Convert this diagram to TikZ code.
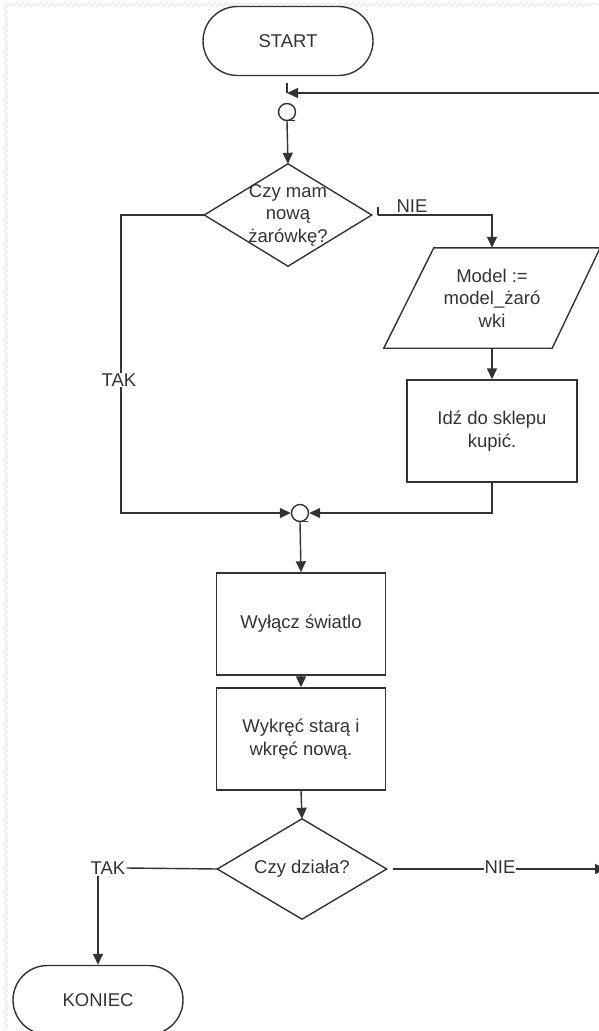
\documentclass[tikz,border=0pt]{standalone}
\usepackage{fontspec}
\setmainfont{Liberation Sans}
\usetikzlibrary{arrows.meta,shapes.misc,calc,decorations.pathmorphing}
\begin{document}
\begin{tikzpicture}[x=1pt,y=-1pt,
  every node/.style={font=\fontsize{18.5}{22.5}\selectfont, text=black!80, align=center},
  line/.style={draw=black!80, line width=1.4pt},
  arr/.style={line, -{Triangle[length=11pt,width=10pt]}},
  term/.style={line, rounded rectangle, minimum width=170pt, minimum height=69pt, inner sep=0pt},
  proc/.style={line, rectangle, minimum width=169pt, minimum height=102pt, inner sep=0pt},
  dshape/.style={rectangle, minimum width=167pt, minimum height=102pt, inner sep=0pt},
  pshape/.style={rectangle, minimum width=216pt, minimum height=100pt, inner sep=0pt},
  conn/.style={line, circle, minimum size=17pt, inner sep=0pt},
  lbl/.style={fill=white, inner sep=1pt}
]
\useasboundingbox (0,0) rectangle (599,1031);
\clip (0,0) rectangle (599,1031);

% faint torn border
\draw[gray!25, line width=0.6pt, decorate, decoration={snake, amplitude=1.5pt, segment length=6pt}]
  (6,1031) -- (6,5) -- (599,5);

% nodes
\node[term] (start) at (288,41) {START};
\node[conn] (c1) at (287,112) {};
\node[dshape] (d1) at (288,215) {Czy mam\\nową\\żarówkę?};
\draw[line, line join=miter] (d1.north) -- (d1.east) -- (d1.south) -- (d1.west) -- cycle;
\node[pshape] (para) at (492,298) {Model :=\\model\_żaró\\wki};
\draw[line] ($(para.north west)+(50,0)$) -- (para.north east) -- ($(para.south east)-(48,0)$) -- (para.south west) -- cycle;
\node[proc, minimum width=170pt] (idz) at (492,431) {Idź do sklepu\\kupić.};
\node[conn] (c2) at (300,513) {};
\node[proc] (wyl) at (301,624) {Wyłącz światlo};
\node[proc] (wyk) at (301,739) {Wykręć starą i\\wkręć nową.};
\node[dshape, minimum width=169pt, minimum height=100pt] (d2) at (302,869) {Czy działa?};
\draw[line, line join=miter] (d2.north) -- (d2.east) -- (d2.south) -- (d2.west) -- cycle;
\node[term] (koniec) at (98,1000) {KONIEC};

\coordinate (r1) at (612,93);
\coordinate (r2) at (606,869);
\coordinate (kL) at (121,215);

% connectors
\draw[arr] (r1) -- (c1.north |- r1);
\draw[line] (c1.north |- r1) -- ++(0,-10);
\draw[line] ($(c1.south)+(2,-1)$) -- ++(6,0);
\draw[arr] (c1.south) -- (d1.north);

\draw[arr] (d1.west) -- (kL) |- (c2.west);
\node[lbl] (tak1) at (119,380) {TAK};

\draw[arr, shorten <=6pt] (d1.east) -| (para.north);
\draw[line] (378,207) -- (378,215);
\node[lbl] (nie1) at (412,206) {NIE};

\draw[arr] (para.south) -- (idz.north);
\draw[arr] (idz.south) |- (c2.east);
\draw[line] ($(c2.south)+(2,-1)$) -- ++(6,0);
\draw[arr] (c2.south) -- (wyl.north);
\draw[arr] (wyl.south) -- (wyk.north);
\draw[arr] (wyk.south) -- (d2.north);

\node[inner sep=1pt] (tak2) at (108,868) {TAK};
\draw[line] (d2.west) -- (tak2.east);
\draw[arr] (koniec.north |- tak2.south) -- (koniec.north);

\draw[arr, shorten <=6pt] (d2.east) -- (r2);
\node[lbl] (nie2) at (500,867) {NIE};
\end{tikzpicture}
\end{document}
